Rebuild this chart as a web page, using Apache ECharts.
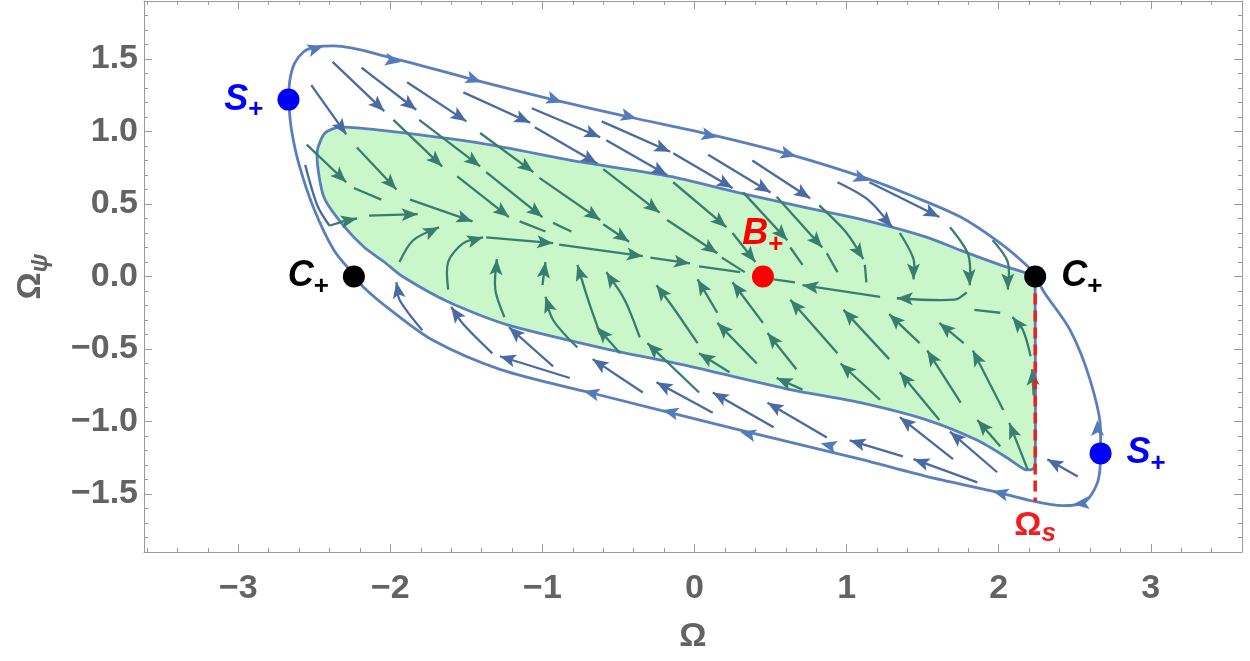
<!DOCTYPE html>
<html>
<head>
<meta charset="utf-8">
<title>Phase portrait</title>
<script src="https://cdn.jsdelivr.net/npm/echarts@6/dist/echarts.min.js"></script>
<style>html,body{margin:0;background:#fff}#main{width:1250px;height:661px}</style>
</head>
<body>
<div id="main"></div>
<script>
// ---- axis ticks ----
var xMajor = [-3, -2, -1, 0, 1, 2, 3];
var xMinor = [-3.6, -3.4, -3.2, -2.8, -2.6, -2.4, -2.2, -1.8, -1.6, -1.4, -1.2, -0.8, -0.6, -0.4, -0.2,
              0.2, 0.4, 0.6, 0.8, 1.2, 1.4, 1.6, 1.8, 2.2, 2.4, 2.6, 2.8, 3.2, 3.4, 3.6];
var yMajor = [-1.5, -1, -0.5, 0, 0.5, 1, 1.5];
var yMinor = [-1.8, -1.7, -1.6, -1.4, -1.3, -1.2, -1.1, -0.9, -0.8, -0.7, -0.6, -0.4, -0.3, -0.2, -0.1,
              0.1, 0.2, 0.3, 0.4, 0.6, 0.7, 0.8, 0.9, 1.1, 1.2, 1.3, 1.4, 1.6, 1.7, 1.8];

// ---- closed separatrix through S+ and C+ ----
var outerCurve = [[-2.67,1.22],[-2.66,1.36],[-2.63,1.47],[-2.57,1.55],[-2.50,1.58],[-2.37,1.59],[-2.00,1.51],
  [-1.46,1.36],[-0.93,1.22],[-0.43,1.10],[0.10,0.98],[0.63,0.84],[1.15,0.67],[1.42,0.56],[1.75,0.41],
  [2.01,0.23],[2.19,0.07],[2.24,0.00],[2.30,-0.11],[2.47,-0.37],[2.60,-0.71],[2.67,-1.06],[2.67,-1.22],
  [2.65,-1.42],[2.56,-1.56],[2.42,-1.58],[2.23,-1.55],[1.96,-1.48],[1.53,-1.38],[1.09,-1.26],[0.30,-1.06],
  [-0.69,-0.80],[-1.28,-0.64],[-1.72,-0.44],[-2.00,-0.23],[-2.18,-0.07],[-2.23,0.00],[-2.37,0.18],
  [-2.50,0.46],[-2.60,0.77],[-2.65,1.01],[-2.67,1.22]];

// ---- green basin (inner boundary, cut at Omega_s) ----
var greenRegion = [[-2.33,1.03],[-2.43,0.99],[-2.48,0.87],[-2.47,0.70],[-2.43,0.53],[-2.30,0.34],[-2.17,0.20],
  [-2.04,0.10],[-1.92,0.00],[-1.61,-0.18],[-1.24,-0.33],[-0.62,-0.49],[-0.03,-0.62],[0.63,-0.78],[1.09,-0.87],
  [1.53,-0.99],[1.86,-1.13],[2.07,-1.26],[2.17,-1.33],[2.22,-1.33],[2.24,-1.30],[2.24,-0.16],[2.24,-0.04],
  [2.24,0.00],[2.01,0.08],[1.75,0.18],[1.53,0.27],[1.15,0.38],[0.71,0.48],[0.28,0.58],[-0.16,0.69],
  [-0.75,0.79],[-1.41,0.92],[-2.07,1.01]];

var omegaS = [[2.24, 0], [2.24, -1.55]];

// ---- stream segments (arrow at last point) ----
var blueStreams = [
  [[-2.52,1.32],[-2.29,0.98]], [[-2.38,1.48],[-2.04,1.14]], [[-2.19,1.44],[-1.83,1.15]],
  [[-1.89,1.34],[-1.50,1.07]], [[-1.52,1.27],[-1.08,1.06]], [[-1.05,1.03],[-0.64,0.78]],
  [[-1.07,1.16],[-0.62,0.96]], [[-0.61,1.07],[-0.16,0.86]], [[-0.58,0.94],[-0.18,0.70]],
  [[-0.14,0.85],[0.25,0.61]], [[0.09,0.84],[0.50,0.58]], [[0.38,0.80],[0.76,0.54]],
  [[0.94,0.65],[1.14,0.53],[1.30,0.34]], [[1.15,0.65],[1.61,0.41]],
  [[-1.79,-0.37],[-1.94,-0.16],[-1.96,-0.04]], [[-1.33,-0.53],[-1.52,-0.33],[-1.60,-0.21]],
  [[-0.93,-0.62],[-1.22,-0.35]], [[-0.82,-0.70],[-1.28,-0.55]], [[-0.34,-0.80],[-0.67,-0.57]],
  [[0.12,-0.94],[-0.25,-0.73]], [[0.52,-1.04],[0.12,-0.80]], [[0.87,-1.11],[0.48,-0.87]],
  [[1.37,-1.24],[1.02,-1.13]], [[1.70,-1.26],[1.35,-0.97]], [[1.86,-1.42],[1.44,-1.26]],
  [[1.99,-1.35],[1.68,-1.07]], [[2.52,-1.38],[2.32,-1.26]]
];
var blueStubs = [
  [[-2.56,0.77],[-2.48,0.49],[-2.40,0.35]]
];
var tealStreams = [
  [[-2.55,0.91],[-2.29,0.65]], [[-2.40,0.35],[-2.31,0.38],[-2.22,0.40]], [[-2.14,0.42],[-1.82,0.43]],
  [[-2.22,0.89],[-1.96,0.60]], [[-1.87,0.53],[-1.46,0.38]], [[-1.98,1.08],[-1.66,0.76]],
  [[-1.56,0.69],[-1.22,0.41]], [[-1.81,1.08],[-1.41,0.76]], [[-1.37,0.72],[-1.00,0.41]],
  [[-1.41,0.99],[-1.06,0.72]], [[-1.02,0.68],[-0.62,0.39]], [[-0.60,0.36],[-0.43,0.24]],
  [[-0.60,0.74],[-0.23,0.44]], [[-0.18,0.39],[0.15,0.16]], [[-0.14,0.65],[0.21,0.34]],
  [[0.25,0.30],[0.40,0.10]], [[0.32,0.58],[0.61,0.25]], [[0.54,0.55],[0.84,0.20]],
  [[0.82,0.49],[1.00,0.30],[1.11,0.12]], [[1.35,0.30],[1.44,0.12],[1.44,-0.02]],
  [[1.68,0.34],[1.80,0.15],[1.81,-0.06]], [[1.79,-0.11],[1.71,-0.16],[1.33,-0.15]],
  [[1.22,-0.14],[0.71,-0.06]], [[1.96,0.25],[2.06,0.10],[2.06,-0.09]],
  [[-1.94,0.10],[-1.85,0.25],[-1.68,0.34]], [[-1.62,-0.09],[-1.62,0.10],[-1.52,0.23],[-1.39,0.27]],
  [[-1.37,0.27],[-0.93,0.23]], [[-0.89,0.22],[-0.34,0.14]], [[-0.29,0.13],[-0.03,0.09]],
  [[-1.25,-0.28],[-1.31,-0.09],[-1.30,0.12]], [[-0.77,-0.49],[-0.93,-0.30],[-0.98,-0.14]],
  [[-1.00,-0.06],[-0.98,0.10]], [[-0.62,-0.40],[-0.70,-0.16],[-0.77,0.08]],
  [[-0.36,-0.42],[-0.46,-0.16],[-0.58,0.03]], [[0.02,-0.46],[-0.15,-0.20],[-0.25,-0.06]],
  [[0.15,-0.25],[0.02,-0.02]], [[0.45,-0.32],[0.25,-0.04]], [[0.94,-0.53],[0.63,-0.16]],
  [[1.28,-0.57],[0.98,-0.23]], [[-0.49,-0.53],[-0.64,-0.35]], [[0.03,-0.80],[-0.31,-0.46]],
  [[0.41,-0.60],[0.15,-0.32]], [[0.67,-0.64],[0.48,-0.39]], [[0.23,-0.66],[0.03,-0.53]],
  [[0.71,-0.78],[0.54,-0.70]], [[1.22,-0.85],[0.96,-0.60]], [[1.48,-0.46],[1.28,-0.26]],
  [[1.77,-0.46],[1.61,-0.32]], [[1.61,-0.99],[1.35,-0.66]], [[1.75,-0.87],[1.53,-0.51]],
  [[2.03,-0.92],[1.83,-0.51]], [[2.19,-1.33],[2.07,-1.01]], [[2.01,-1.17],[1.86,-0.99]],
  [[2.23,-0.82],[2.22,-0.64]], [[2.21,-0.55],[2.16,-0.37],[2.09,-0.28]]
];
var tealStubs = [
  [[-2.24,0.61],[-2.06,0.53]], [[-1.15,0.38],[-0.98,0.31]], [[-0.93,0.37],[-0.81,0.31]],
  [[0.18,0.13],[0.33,0.03]], [[0.63,0.20],[0.71,0.08]], [[0.87,0.16],[0.94,0.03]],
  [[1.12,0.08],[1.13,-0.04]], [[0.66,-0.04],[0.52,-0.02]], [[0.03,0.07],[0.30,0.03]],
  [[2.01,-0.25],[1.84,-0.23]]
];
// arrowheads sitting on the separatrix: [from, to]
var outerArrows = [
  [[-2.56,1.55],[-2.44,1.59]], [[-2.04,1.50],[-1.93,1.48]], [[-1.51,1.38],[-1.40,1.34]],
  [[-0.98,1.24],[-0.87,1.20]], [[-0.49,1.12],[-0.38,1.09]], [[0.03,0.99],[0.15,0.96]],
  [[0.56,0.86],[0.67,0.83]], [[1.04,0.70],[1.15,0.66]], [[2.65,-1.09],[2.65,-0.99]],
  [[2.59,-1.56],[2.49,-1.57]], [[2.07,-1.51],[1.96,-1.48]], [[0.94,-1.18],[0.83,-1.15]],
  [[0.41,-1.10],[0.30,-1.07]], [[-0.10,-0.95],[-0.21,-0.92]], [[-0.62,-0.82],[-0.73,-0.79]]
];

// ---- fixed points ----
var saddles = [[-2.67, 1.22], [2.67, -1.22]];
var cusps = [[-2.24, 0], [2.24, 0]];
var attractor = [[0.45, 0]];

var FONT = '"Liberation Sans", Arial, sans-serif';
var GRAY = '#636363';
var FRAME = '#9a9a9a';
var SEP = '#5b7fbd';

function arrowHead(p, q, color) {
    var dx = q[0] - p[0], dy = q[1] - p[1];
    var len = Math.sqrt(dx * dx + dy * dy) || 1;
    var ux = dx / len, uy = dy / len, L = 16, W = 6.5, N = 3.5;
    var bx = q[0] - ux * L, by = q[1] - uy * L;
    return {
        type: 'polygon',
        shape: { points: [q, [bx - uy * W, by + ux * W], [q[0] - ux * (L - N), q[1] - uy * (L - N)], [bx + uy * W, by - ux * W]] },
        style: { fill: color }
    };
}

function streamSeries(lines, color, withLine, withArrow, z) {
    return {
        type: 'custom', coordinateSystem: 'cartesian2d', silent: true, z: z,
        data: lines.map(function (l) { return l[0]; }),
        renderItem: function (params, api) {
            var pts = lines[params.dataIndex].map(function (p) { return api.coord(p); });
            var children = [];
            if (withLine) {
                children.push({ type: 'polyline', shape: { points: pts, smooth: 0.3 },
                                style: { stroke: color, lineWidth: 2.3, fill: null } });
            }
            if (withArrow) children.push(arrowHead(pts[pts.length - 2], pts[pts.length - 1], color));
            return { type: 'group', children: children };
        }
    };
}

function xAxisDef(pos, ticks, len, showLine, showLabel) {
    return {
        type: 'value', position: pos, min: -3.62, max: 3.6,
        axisLine: { show: showLine, onZero: false, lineStyle: { color: FRAME, width: 1 } },
        axisTick: { show: true, inside: true, length: len, customValues: ticks, lineStyle: { color: FRAME } },
        axisLabel: { show: showLabel, customValues: ticks, margin: 20, color: GRAY, fontSize: 34, fontWeight: 'bold',
                     fontFamily: FONT, formatter: function (v) { return (v < 0 ? '\u2212' : '') + Math.abs(v); } },
        splitLine: { show: false }
    };
}
function yAxisDef(pos, ticks, len, showLine, showLabel) {
    return {
        type: 'value', position: pos, min: -1.9, max: 1.9,
        axisLine: { show: showLine, onZero: false, lineStyle: { color: FRAME, width: 1 } },
        axisTick: { show: true, inside: true, length: len, customValues: ticks, lineStyle: { color: FRAME } },
        axisLabel: { show: showLabel, customValues: ticks, margin: 6, color: GRAY, fontSize: 34, fontWeight: 'bold',
                     fontFamily: FONT, formatter: function (v) { return (v < 0 ? '\u2212' : '') + Math.abs(v).toFixed(1); } },
        splitLine: { show: false }
    };
}

var labelRich = function (color) {
    return {
        m: { fontSize: 36, fontWeight: 'bold', fontStyle: 'italic', fontFamily: FONT, color: color, lineHeight: 46 },
        u: { fontSize: 34, fontWeight: 'bold', fontFamily: FONT, color: color, lineHeight: 44 },
        s: { fontSize: 26, fontWeight: 'bold', fontFamily: FONT, color: color, lineHeight: 26, verticalAlign: 'bottom' },
        si: { fontSize: 26, fontWeight: 'bold', fontStyle: 'italic', fontFamily: FONT, color: color, lineHeight: 24, verticalAlign: 'bottom' }
    };
};

var x0 = xAxisDef('bottom', xMajor, 8, true, true);
x0.name = 'Ω';
x0.nameLocation = 'middle';
x0.nameGap = 68;
x0.nameTextStyle = { color: GRAY, fontSize: 34, fontWeight: 'bold', fontFamily: FONT };

var y0 = yAxisDef('left', yMajor, 8, true, true);
y0.name = '{o|Ω}{p|ψ}';
y0.nameLocation = 'middle';
y0.nameGap = 92;
y0.nameRotate = 90;
y0.nameTextStyle = { rich: {
    o: { color: GRAY, fontSize: 34, fontWeight: 'bold', fontFamily: FONT, lineHeight: 42 },
    p: { color: GRAY, fontSize: 24, fontWeight: 'bold', fontStyle: 'italic', fontFamily: FONT, lineHeight: 24, verticalAlign: 'bottom' }
} };

var chart = echarts.init(document.getElementById('main'));
chart.setOption({
    animation: false,
    backgroundColor: '#ffffff',
    grid: { left: 144, right: 8, top: 1, bottom: 109, containLabel: false, outerBoundsMode: 'none' },
    xAxis: [x0, xAxisDef('bottom', xMinor, 4, false, false), xAxisDef('top', xMajor, 8, true, false), xAxisDef('top', xMinor, 4, false, false)],
    yAxis: [y0, yAxisDef('left', yMinor, 4, false, false), yAxisDef('right', yMajor, 8, true, false), yAxisDef('right', yMinor, 4, false, false)],
    series: [
        {
            type: 'custom', coordinateSystem: 'cartesian2d', silent: true, z: 1,
            data: [greenRegion[0]],
            renderItem: function (params, api) {
                return { type: 'polygon',
                         shape: { points: greenRegion.map(function (p) { return api.coord(p); }), smooth: 0.25 },
                         style: { fill: '#c9f7c9', stroke: SEP, lineWidth: 2.8 } };
            }
        },
        streamSeries(blueStreams, '#4a6aa3', true, true, 3),
        streamSeries(blueStubs, '#4a6aa3', true, false, 3),
        streamSeries(tealStreams, '#387d6e', true, true, 3),
        streamSeries(tealStubs, '#387d6e', true, false, 3),
        {
            type: 'line', data: outerCurve, smooth: 0.3, showSymbol: false, silent: true, z: 4,
            lineStyle: { color: SEP, width: 2.8 }
        },
        streamSeries(outerArrows, '#557abb', false, true, 5),
        {
            type: 'line', data: omegaS, showSymbol: false, silent: true, z: 6,
            lineStyle: { color: '#f01e1e', width: 3.5, type: [11, 6] }
        },
        {
            type: 'scatter', silent: true, z: 7, symbolSize: 0, itemStyle: { opacity: 1 },
            data: [omegaS[1]],
            label: { show: true, position: 'bottom', distance: 2, formatter: '{u|Ω}{si|s}', rich: labelRich('#f01e1e') }
        },
        {
            type: 'scatter', silent: true, z: 8, symbolSize: 22, itemStyle: { color: '#0000ff', opacity: 1 },
            data: [
                { value: saddles[0], label: { position: 'left', distance: 14 } },
                { value: saddles[1], label: { position: 'right', distance: 15 } }
            ],
            label: { show: true, formatter: '{m|S}{s|+}', rich: labelRich('#0000ff') }
        },
        {
            type: 'scatter', silent: true, z: 8, symbolSize: 22, itemStyle: { color: '#000000', opacity: 1 },
            data: [
                { value: cusps[0], label: { position: 'left', distance: 14 } },
                { value: cusps[1], label: { position: 'right', distance: 15 } }
            ],
            label: { show: true, formatter: '{m|C}{s|+}', rich: labelRich('#000000') }
        },
        {
            type: 'scatter', silent: true, z: 8, symbolSize: 22, itemStyle: { color: '#ff0000', opacity: 1 },
            data: attractor,
            label: { show: true, position: 'top', distance: 8, formatter: '{m|B}{s|+}', rich: labelRich('#ff0000') }
        }
    ]
});
</script>
</body>
</html>
